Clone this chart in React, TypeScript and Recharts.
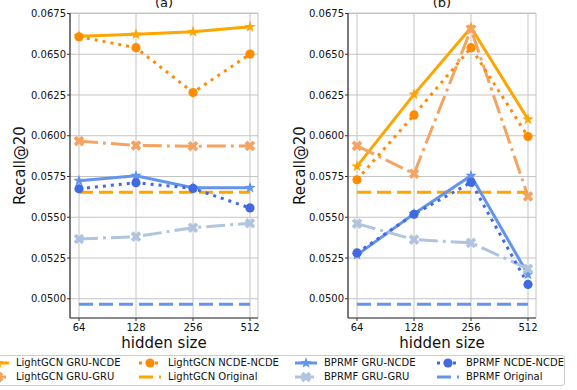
import { LineChart, Line, XAxis, YAxis, CartesianGrid } from 'recharts'

const hiddenSizes = ['64', '128', '256', '512']
const recallTicks = [0.05, 0.0525, 0.055, 0.0575, 0.06, 0.0625, 0.065, 0.0675]

// panel (a)
const aLightGruNcde = [0.06611, 0.06622, 0.06638, 0.06668]
const aLightGruGru = [0.05967, 0.0594, 0.05936, 0.05938]
const aLightNcdeNcde = [0.06607, 0.0654, 0.06265, 0.06501]
const aLightOriginal = [0.05653, 0.05653, 0.05653, 0.05653]
const aBprGruNcde = [0.05724, 0.05755, 0.05681, 0.05681]
const aBprGruGru = [0.05367, 0.05381, 0.05436, 0.05463]
const aBprNcdeNcde = [0.05675, 0.05712, 0.05677, 0.05557]
const aBprOriginal = [0.04967, 0.04967, 0.04967, 0.04967]

// panel (b)
const bLightGruNcde = [0.05812, 0.06254, 0.06664, 0.06101]
const bLightGruGru = [0.05938, 0.05767, 0.06652, 0.05628]
const bLightNcdeNcde = [0.0573, 0.06128, 0.0654, 0.05995]
const bLightOriginal = [0.05653, 0.05653, 0.05653, 0.05653]
const bBprGruNcde = [0.05269, 0.05522, 0.05755, 0.05149]
const bBprGruGru = [0.05461, 0.05363, 0.05343, 0.05184]
const bBprNcdeNcde = [0.05281, 0.05518, 0.05714, 0.05088]
const bBprOriginal = [0.04967, 0.04967, 0.04967, 0.04967]

const FONT = '"DejaVu Sans", sans-serif'
const DOTTED = '3 5'
const DASHED = '14 6'
const DASHDOT = '19 5 3 5'

type MarkerKind = 'star' | 'circle' | 'x' | 'none'

const SERIES: { key: string; name: string; color: string; dash?: string; marker: MarkerKind }[] = [
  { key: 'lightGruNcde', name: 'LightGCN GRU-NCDE', color: '#FFA500', marker: 'star' },
  { key: 'lightGruGru', name: 'LightGCN GRU-GRU', color: '#F4A460', dash: DASHDOT, marker: 'x' },
  { key: 'lightNcdeNcde', name: 'LightGCN NCDE-NCDE', color: '#FF8C00', dash: DOTTED, marker: 'circle' },
  { key: 'lightOriginal', name: 'LightGCN Original', color: '#FFA500', dash: DASHED, marker: 'none' },
  { key: 'bprGruNcde', name: 'BPRMF GRU-NCDE', color: '#6495ED', marker: 'star' },
  { key: 'bprGruGru', name: 'BPRMF GRU-GRU', color: '#B0C4DE', dash: DASHDOT, marker: 'x' },
  { key: 'bprNcdeNcde', name: 'BPRMF NCDE-NCDE', color: '#4169E1', dash: DOTTED, marker: 'circle' },
  { key: 'bprOriginal', name: 'BPRMF Original', color: '#6495ED', dash: DASHED, marker: 'none' },
]

const panelA: Record<string, number[]> = {
  lightGruNcde: aLightGruNcde, lightGruGru: aLightGruGru, lightNcdeNcde: aLightNcdeNcde, lightOriginal: aLightOriginal,
  bprGruNcde: aBprGruNcde, bprGruGru: aBprGruGru, bprNcdeNcde: aBprNcdeNcde, bprOriginal: aBprOriginal,
}
const panelB: Record<string, number[]> = {
  lightGruNcde: bLightGruNcde, lightGruGru: bLightGruGru, lightNcdeNcde: bLightNcdeNcde, lightOriginal: bLightOriginal,
  bprGruNcde: bBprGruNcde, bprGruGru: bBprGruGru, bprNcdeNcde: bBprNcdeNcde, bprOriginal: bBprOriginal,
}

function toRows(panel: Record<string, number[]>) {
  return hiddenSizes.map((size, i) => {
    const row: Record<string, string | number> = { size }
    SERIES.forEach((s) => (row[s.key] = panel[s.key][i]))
    return row
  })
}

function starPoints(cx: number, cy: number, R: number, r: number) {
  const pts: string[] = []
  for (let i = 0; i < 10; i++) {
    const rad = i % 2 === 0 ? R : r
    const a = -Math.PI / 2 + (i * Math.PI) / 5
    pts.push(`${cx + rad * Math.cos(a)},${cy + rad * Math.sin(a)}`)
  }
  return pts.join(' ')
}

function xPoints(cx: number, cy: number, s: number, w: number) {
  const plus = [[-w, -s], [w, -s], [w, -w], [s, -w], [s, w], [w, w], [w, s], [-w, s], [-w, w], [-s, w], [-s, -w], [-w, -w]]
  const c = Math.SQRT1_2
  return plus.map(([x, y]) => `${cx + (x - y) * c},${cy + (x + y) * c}`).join(' ')
}

function Marker({ cx, cy, kind, color }: { cx: number; cy: number; kind: MarkerKind; color: string }) {
  if (kind === 'circle') return <circle cx={cx} cy={cy} r={4.6} fill={color} />
  if (kind === 'star') return <polygon points={starPoints(cx, cy, 6, 2.4)} fill={color} />
  if (kind === 'x') return <polygon points={xPoints(cx, cy, 5.6, 1.9)} fill={color} />
  return <g />
}

function Panel({ title, panel, left, labelOffset }: { title: string; panel: Record<string, number[]>; left: number; labelOffset: number }) {
  const rows = toRows(panel)
  return (
    <div style={{ position: 'absolute', left, top: 0 }}>
      <div
        style={{
          position: 'absolute',
          left: 70,
          width: 188,
          top: -5,
          textAlign: 'center',
          fontSize: 13,
          lineHeight: '15px',
          color: '#111',
          fontFamily: FONT,
        }}
      >
        {title}
      </div>
      <LineChart width={270} height={352} data={rows} margin={{ top: 13, right: 12, bottom: 0, left: 0 }}>
        <CartesianGrid stroke="#c4c4c4" strokeWidth={1} />
        <XAxis
          dataKey="size"
          padding={{ left: 9, right: 8 }}
          height={34}
          stroke="#333"
          tickSize={3}
          tickMargin={3}
          tick={{ fill: '#111', fontSize: 10, fontFamily: FONT }}
          axisLine={{ stroke: '#333', strokeWidth: 1.2 }}
          label={{ value: 'hidden size', position: 'insideBottom', offset: 4.5, fill: '#111', fontSize: 15, fontFamily: FONT }}
        />
        <XAxis
          xAxisId="top"
          orientation="top"
          dataKey="size"
          height={0}
          tick={false}
          tickLine={false}
          axisLine={{ stroke: '#333', strokeWidth: 1.2 }}
        />
        <YAxis
          type="number"
          domain={[0.04882, 0.06753]}
          ticks={recallTicks}
          width={70}
          stroke="#333"
          tickSize={3}
          tickMargin={1}
          tickFormatter={(v: number) => v.toFixed(4)}
          tick={{ fill: '#111', fontSize: 10, fontFamily: FONT }}
          axisLine={{ stroke: '#333', strokeWidth: 1.2 }}
          label={{ value: 'Recall@20', angle: -90, position: 'insideLeft', offset: labelOffset, fill: '#111', fontSize: 15, fontFamily: FONT, style: { textAnchor: 'middle' } }}
        />
        <YAxis
          yAxisId="right"
          orientation="right"
          width={0}
          tick={false}
          tickLine={false}
          axisLine={{ stroke: '#333', strokeWidth: 1.2 }}
        />
        {SERIES.map((s) => (
          <Line
            key={s.key}
            dataKey={s.key}
            name={s.name}
            stroke={s.color}
            strokeWidth={3}
            strokeDasharray={s.dash}
            isAnimationActive={false}
            activeDot={false}
            dot={
              s.marker === 'none'
                ? false
                : (p: any) => <Marker key={`${s.key}-${p.index}`} cx={p.cx} cy={p.cy} kind={s.marker} color={s.color} />
            }
          />
        ))}
      </LineChart>
    </div>
  )
}

const LEGEND_COLS = [-13, 139, 295, 437]

function LegendHandle({ s }: { s: (typeof SERIES)[number] }) {
  return (
    <svg width={22} height={14} style={{ display: 'block', flex: 'none' }}>
      <line x1={0} y1={7} x2={22} y2={7} stroke={s.color} strokeWidth={3} strokeDasharray={s.dash} />
      <Marker cx={11} cy={7} kind={s.marker} color={s.color} />
    </svg>
  )
}

export default function App() {
  return (
    <div style={{ position: 'absolute', left: 0, top: 0, width: 577, height: 390, background: '#fff', overflow: 'hidden', fontFamily: FONT }}>
      <Panel title="(a)" panel={panelA} left={0} labelOffset={20} />
      <Panel title="(b)" panel={panelB} left={278} labelOffset={22} />
      <div
        style={{
          position: 'absolute',
          left: -20,
          top: 354.5,
          width: 585,
          height: 31.5,
          border: '1px solid #cccccc',
          borderRadius: 3,
          boxSizing: 'border-box',
          background: '#fff',
        }}
      />
      {SERIES.map((s, i) => (
        <div
          key={s.key}
          style={{
            position: 'absolute',
            left: LEGEND_COLS[Math.floor(i / 2)],
            top: i % 2 === 0 ? 355.7 : 369.7,
            height: 14,
            display: 'flex',
            alignItems: 'center',
            gap: 7,
            fontSize: 10,
            lineHeight: '14px',
            color: '#111',
            whiteSpace: 'nowrap',
          }}
        >
          <LegendHandle s={s} />
          <span>{s.name}</span>
        </div>
      ))}
    </div>
  )
}
